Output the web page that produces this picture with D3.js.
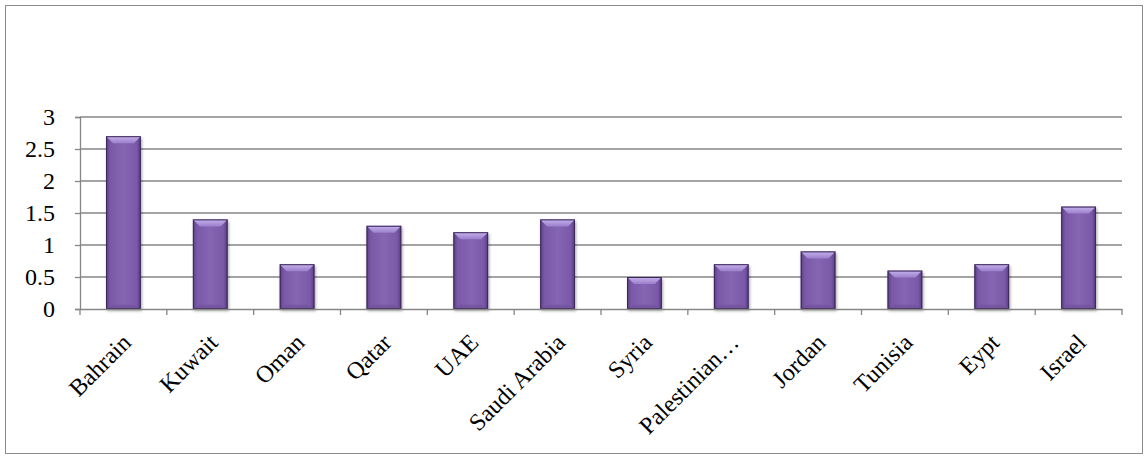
<!DOCTYPE html>
<html>
<head>
<meta charset="utf-8">
<script src="https://cdn.jsdelivr.net/npm/d3@7"></script>
<style>
  html, body { margin: 0; padding: 0; background: #fff; }
  svg { display: block; }
</style>
</head>
<body>
<svg id="chart" width="1148" height="459"></svg>
<script>
// Chart data
const categories = ["Bahrain", "Kuwait", "Oman", "Qatar", "UAE", "Saudi Arabia", "Syria",
  "Palestinian…", "Jordan", "Tunisia", "Eypt", "Israel"];
const values = [2.7, 1.4, 0.7, 1.3, 1.2, 1.4, 0.5, 0.7, 0.9, 0.6, 0.7, 1.6];
const yTicks = [0, 0.5, 1, 1.5, 2, 2.5, 3];
const yTickLabels = ["0", "0.5", "1", "1.5", "2", "2.5", "3"];

const W = 1148, H = 459;
const plot = { left: 80, right: 1122, top: 117, bottom: 309 };
const svg = d3.select("#chart");
const FONT = "'Liberation Serif', 'Times New Roman', serif";
const GRID = "#868686";

// Outer chart border
svg.append("rect")
  .attr("x", 5.5).attr("y", 5.5)
  .attr("width", W - 11).attr("height", H - 11)
  .attr("fill", "#fff").attr("stroke", "#8c8c8c").attr("stroke-width", 1);

const x = d3.scaleBand().domain(categories).range([plot.left, plot.right]).paddingInner(0).paddingOuter(0);
const y = d3.scaleLinear().domain([0, 3]).range([plot.bottom, plot.top]);

// Gradients for the bevelled bars
const defs = svg.append("defs");
const body = defs.append("linearGradient").attr("id", "barBody").attr("x1", 0).attr("x2", 1).attr("y1", 0).attr("y2", 0);
[[0, "#5a3f85"], [0.12, "#7a59a8"], [0.5, "#8566b3"], [0.88, "#7a59a8"], [1, "#553b7e"]]
  .forEach(([o, c]) => body.append("stop").attr("offset", o).attr("stop-color", c));
const topBevel = defs.append("linearGradient").attr("id", "topBevel").attr("x1", 0).attr("x2", 0).attr("y1", 0).attr("y2", 1);
[[0, "#c6b2ec"], [1, "#9b7fcc"]]
  .forEach(([o, c]) => topBevel.append("stop").attr("offset", o).attr("stop-color", c));
const shadow = defs.append("filter").attr("id", "shadow").attr("x", "-20%").attr("y", "-20%").attr("width", "140%").attr("height", "140%");
shadow.append("feGaussianBlur").attr("in", "SourceAlpha").attr("stdDeviation", 1.5);
shadow.append("feOffset").attr("dx", 1).attr("dy", 2).attr("result", "b");
shadow.append("feComponentTransfer").append("feFuncA").attr("type", "linear").attr("slope", 0.35);
const merge = shadow.append("feMerge");
merge.append("feMergeNode");
merge.append("feMergeNode").attr("in", "SourceGraphic");

// Gridlines
svg.append("g").selectAll("line").data(yTicks.filter(d => d > 0)).join("line")
  .attr("x1", plot.left).attr("x2", plot.right)
  .attr("y1", d => y(d)).attr("y2", d => y(d))
  .attr("stroke", GRID).attr("stroke-width", 1.3);

// Y axis
const yAxis = d3.axisLeft(y).tickValues(yTicks).tickSize(5).tickPadding(20)
  .tickFormat((d, i) => yTickLabels[i]);
const gy = svg.append("g").attr("transform", `translate(${plot.left},0)`).call(yAxis);
gy.select(".domain").attr("stroke", GRID).attr("stroke-width", 1.3);
gy.selectAll(".tick line").attr("stroke", GRID).attr("stroke-width", 1.3);
gy.selectAll(".tick text").attr("font-family", FONT).attr("font-size", 24).attr("fill", "#000");

// Bars
const bw = x.bandwidth() / 2.5;
const bars = svg.append("g").selectAll("g").data(values).join("g")
  .attr("filter", "url(#shadow)")
  .attr("transform", (d, i) => `translate(${x(categories[i]) + (x.bandwidth() - bw) / 2},${y(d)})`);
bars.append("rect")
  .attr("width", bw).attr("height", d => y(0) - y(d))
  .attr("fill", "url(#barBody)");
const bev = 7;
bars.append("path")
  .attr("d", d => `M0,0 L${bw},0 L${bw - bev},${bev} L${bev},${bev} Z`)
  .attr("fill", "url(#topBevel)");
bars.append("path")
  .attr("d", d => { const h = y(0) - y(d); return `M0,${h} L${bw},${h} L${bw - bev},${h - bev * 0.6} L${bev},${h - bev * 0.6} Z`; })
  .attr("fill", "#6c4f98").attr("opacity", 0.6);
bars.append("rect")
  .attr("x", 0.5).attr("y", 0.5)
  .attr("width", bw - 1).attr("height", d => y(0) - y(d) - 1)
  .attr("fill", "none").attr("stroke", "#3b2857").attr("stroke-width", 1);

// X axis
const xAxis = d3.axisBottom(x).tickSize(0).tickFormat("");
const gx = svg.append("g").attr("transform", `translate(0,${plot.bottom})`).call(xAxis);
gx.select(".domain").attr("stroke", GRID).attr("stroke-width", 1.3);
const edges = categories.map(c => x(c)).concat([plot.right]);
gx.selectAll(".edge").data(edges).join("line").attr("class", "edge")
  .attr("x1", d => d).attr("x2", d => d).attr("y1", 0).attr("y2", 6)
  .attr("stroke", GRID).attr("stroke-width", 1.3);

// Rotated category labels
svg.append("g").selectAll("text").data(categories).join("text")
  .attr("font-family", FONT).attr("font-size", 24).attr("fill", "#000")
  .attr("text-anchor", "end")
  .attr("transform", d => `translate(${x(d) + x.bandwidth() / 2 + 9},${plot.bottom + 35}) rotate(-45)`)
  .text(d => d);
</script>
</body>
</html>
